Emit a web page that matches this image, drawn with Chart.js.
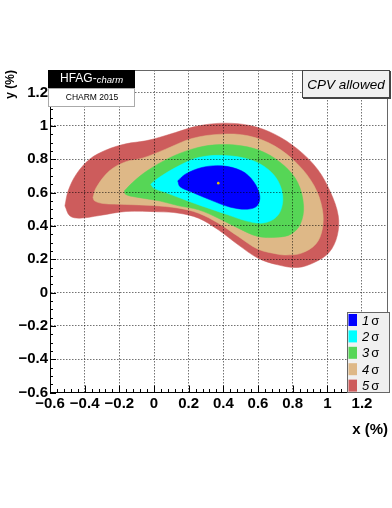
<!DOCTYPE html>
<html lang="en">
<head>
<meta charset="UTF-8">
<script src="https://cdn.jsdelivr.net/npm/chart.js@4.4.1/dist/chart.umd.min.js"></script>
<title>HFAG charm x-y</title>
<style>body{margin:0;background:#fff}</style>
</head>
<body>
<canvas id="contour" width="392" height="508"></canvas>
<script>
// tick labels
var xTicks = [-0.6, -0.4, -0.2, 0, 0.2, 0.4, 0.6, 0.8, 1, 1.2];
var xTickLabels = ['\u22120.6', '\u22120.4', '\u22120.2', '0', '0.2', '0.4', '0.6', '0.8', '1', '1.2'];
var yTicks = [-0.6, -0.4, -0.2, 0, 0.2, 0.4, 0.6, 0.8, 1, 1.2];
var yTickLabels = ['\u22120.6', '\u22120.4', '\u22120.2', '0', '0.2', '0.4', '0.6', '0.8', '1', '1.2'];

var sigmaLabels = ['1', '2', '3', '4', '5'];
var sigmaColors = ['#0000ff', '#00ffff', '#56d656', '#deb887', '#cd5c5c'];

// contour outlines, [x, y] in %
var sigma1 = [[0.137,0.67],[0.181,0.71],[0.276,0.75],[0.39,0.76],[0.505,0.73],[0.575,0.665],[0.61,0.58],[0.595,0.52],[0.54,0.5],[0.44,0.512],[0.324,0.556],[0.21,0.606],[0.15,0.635]];
var sigma2 = [[-0.019,0.65],[0.029,0.69],[0.143,0.76],[0.257,0.81],[0.41,0.822],[0.56,0.795],[0.657,0.74],[0.715,0.67],[0.743,0.576],[0.73,0.49],[0.69,0.44],[0.62,0.416],[0.53,0.43],[0.43,0.465],[0.33,0.5],[0.219,0.54],[0.067,0.6],[0.0,0.625]];
var sigma3 = [[-0.171,0.61],[-0.124,0.66],[-0.04,0.73],[0.086,0.806],[0.219,0.86],[0.352,0.886],[0.505,0.88],[0.638,0.84],[0.752,0.76],[0.829,0.66],[0.863,0.52],[0.844,0.41],[0.79,0.35],[0.714,0.332],[0.6,0.336],[0.486,0.386],[0.371,0.446],[0.257,0.496],[0.143,0.52],[0.029,0.55],[-0.124,0.576],[-0.165,0.59]];
var sigma4 = [[-0.352,0.57],[-0.333,0.63],[-0.257,0.73],[-0.162,0.785],[-0.067,0.806],[0.067,0.86],[0.219,0.924],[0.39,0.95],[0.543,0.94],[0.695,0.88],[0.829,0.77],[0.924,0.64],[0.971,0.5],[0.971,0.38],[0.933,0.29],[0.848,0.235],[0.76,0.225],[0.714,0.23],[0.6,0.26],[0.486,0.336],[0.371,0.416],[0.257,0.476],[0.143,0.506],[-0.01,0.522],[-0.162,0.528],[-0.295,0.534],[-0.343,0.55]];
var sigma5 = [[-0.514,0.52],[-0.495,0.61],[-0.448,0.71],[-0.371,0.8],[-0.276,0.855],[-0.162,0.892],[-0.048,0.91],[0.029,0.93],[0.124,0.96],[0.257,1.0],[0.41,1.016],[0.562,1.0],[0.695,0.95],[0.829,0.86],[0.943,0.74],[1.019,0.6],[1.063,0.46],[1.057,0.34],[1.01,0.24],[0.924,0.18],[0.829,0.15],[0.714,0.166],[0.6,0.206],[0.486,0.286],[0.371,0.376],[0.257,0.446],[0.143,0.476],[0.029,0.484],[-0.162,0.486],[-0.314,0.462],[-0.429,0.446],[-0.486,0.46]];
var bestFit = [[0.371, 0.656]];

var FONT = '"Liberation Sans", Arial, Helvetica, sans-serif';

function loop(pts) {
    var out = pts.map(function(p){ return {x: p[0], y: p[1]}; });
    out.push({x: pts[0][0], y: pts[0][1]});
    return out;
}

var contours = [sigma1, sigma2, sigma3, sigma4, sigma5];
var datasets = [{
    label: 'best fit',
    data: bestFit.map(function(p){ return {x: p[0], y: p[1]}; }),
    showLine: false,
    pointRadius: 1.3,
    pointBackgroundColor: '#e8c000',
    pointBorderWidth: 0
}];
contours.forEach(function(c, i){
    datasets.push({
        label: sigmaLabels[i] + ' \u03c3',
        num: sigmaLabels[i],
        data: loop(c),
        showLine: true,
        fill: 'shape',
        backgroundColor: sigmaColors[i],
        borderColor: sigmaColors[i],
        borderWidth: 0.5,
        pointRadius: 0,
        tension: 0.35
    });
});

var decorations = {
    id: 'decorations',
    afterDraw: function(chart) {
        var c = chart.ctx, a = chart.chartArea;
        var xs = chart.scales.x, ys = chart.scales.y;
        c.save();
        // frame top / right
        c.strokeStyle = '#666'; c.lineWidth = 1;
        c.beginPath();
        c.moveTo(a.left, a.top + 0.5); c.lineTo(a.right - 0.5, a.top + 0.5); c.lineTo(a.right - 0.5, a.bottom);
        c.stroke();

        // inward tick marks
        c.strokeStyle = '#000';
        function ticksFor(scale, vals, nsub, major, minor, horiz) {
            var step = (vals[1] - vals[0]) / nsub;
            for (var k = 0; vals[0] + k * step <= scale.max + 1e-9; k++) {
                var len = (k % nsub === 0) ? major : minor;
                var p = Math.round(scale.getPixelForValue(vals[0] + k * step)) + 0.5;
                c.beginPath();
                if (horiz) { c.moveTo(p, a.bottom); c.lineTo(p, a.bottom - len); }
                else { c.moveTo(a.left, p); c.lineTo(a.left + len, p); }
                c.stroke();
            }
        }
        ticksFor(xs, xTicks, 5, 7, 3.5, true);
        ticksFor(ys, yTicks, 4, 6, 3, false);

        // HFAG logo
        c.fillStyle = '#000';
        c.fillRect(a.left - 2, 70, 87, 18);
        c.fillStyle = '#fff';
        c.strokeStyle = '#aaa';
        c.fillRect(a.left - 2, 88, 87, 19);
        c.strokeRect(a.left - 1.5, 88.5, 86, 18);
        c.textBaseline = 'middle';
        c.textAlign = 'left';
        c.font = '12px ' + FONT;
        c.fillText('HFAG-', 60, 79);
        var w = c.measureText('HFAG-').width;
        c.font = 'italic 9.5px ' + FONT;
        c.fillText('charm', 60 + w, 80);
        c.fillStyle = '#000';
        c.font = '8.5px ' + FONT;
        c.textAlign = 'center';
        c.fillText('CHARM 2015', a.left + 42, 97.5);

        // CPV allowed box
        c.fillStyle = '#f0f0f0';
        c.fillRect(302, 70, 88, 28);
        c.strokeStyle = '#444';
        c.lineWidth = 1;
        c.strokeRect(302.5, 70.5, 87, 27);
        c.lineWidth = 2;
        c.beginPath(); c.moveTo(303, 98); c.lineTo(390, 98); c.lineTo(390, 71); c.stroke();
        c.fillStyle = '#000';
        c.font = 'italic 13.5px ' + FONT;
        c.fillText('CPV allowed', 346, 85);

        // legend
        c.fillStyle = '#f0f0f0';
        c.fillRect(347, 312, 43, a.bottom - 312);
        c.strokeStyle = '#666'; c.lineWidth = 1;
        c.strokeRect(347.5, 312.5, 42, a.bottom - 312.5);
        c.textAlign = 'left';
        chart.data.datasets.forEach(function(ds) {
            if (!ds.num) return;
            var i = sigmaLabels.indexOf(ds.num);
            var cy = 321 + i * 16.4;
            c.fillStyle = ds.backgroundColor;
            c.fillRect(348.5, cy - 7, 8.5, 12);
            c.fillStyle = '#000';
            c.font = 'italic 13px ' + FONT;
            c.fillText(ds.num, 362, cy);
            var nw = c.measureText(ds.num).width;
            c.font = '13px ' + FONT;
            c.fillText('\u03c3', 362 + nw + 2, cy);
        });

        // axis titles
        c.fillStyle = '#000';
        c.font = 'bold 15px ' + FONT;
        c.textAlign = 'right';
        c.fillText('x (%)', 388, 430);
        c.font = 'bold 12px ' + FONT;
        c.translate(11, 70);
        c.rotate(-Math.PI / 2);
        c.fillText('y (%)', 0, 0);
        c.restore();
    }
};

var chart = new Chart(document.getElementById('contour').getContext('2d'), {
    type: 'scatter',
    data: { datasets: datasets },
    options: {
        responsive: false,
        animation: false,
        layout: { padding: { top: 70, right: 1, left: 0, bottom: 0 } },
        plugins: { legend: { display: false }, tooltip: { enabled: false } },
        scales: {
            x: {
                type: 'linear', min: -0.6, max: 1.35,
                afterBuildTicks: function(s){ s.ticks = xTicks.map(function(v){ return {value: v}; }); },
                afterFit: function(s){ s.height = 115.5; },
                ticks: {
                    callback: function(v, i){ return xTickLabels[i]; },
                    font: { family: FONT, size: 15, weight: 'bold' },
                    color: '#000', padding: 2, maxRotation: 0, autoSkip: false
                },
                grid: { color: 'rgba(0,0,0,0.55)', lineWidth: 1, drawTicks: false, z: 1 },
                border: { display: true, color: '#000', width: 1, dash: [1.5, 1.5], z: 2 }
            },
            y: {
                type: 'linear', min: -0.6, max: 1.335,
                afterBuildTicks: function(s){ s.ticks = yTicks.map(function(v){ return {value: v}; }); },
                afterFit: function(s){ s.width = 50; },
                ticks: {
                    callback: function(v, i){ return yTickLabels[i]; },
                    font: { family: FONT, size: 15, weight: 'bold' },
                    color: '#000', padding: 2, autoSkip: false
                },
                grid: { color: 'rgba(0,0,0,0.55)', lineWidth: 1, drawTicks: false, z: 1 },
                border: { display: true, color: '#000', width: 1, dash: [1.5, 1.5], z: 2 }
            }
        }
    },
    plugins: [decorations]
});
</script>
</body>
</html>
